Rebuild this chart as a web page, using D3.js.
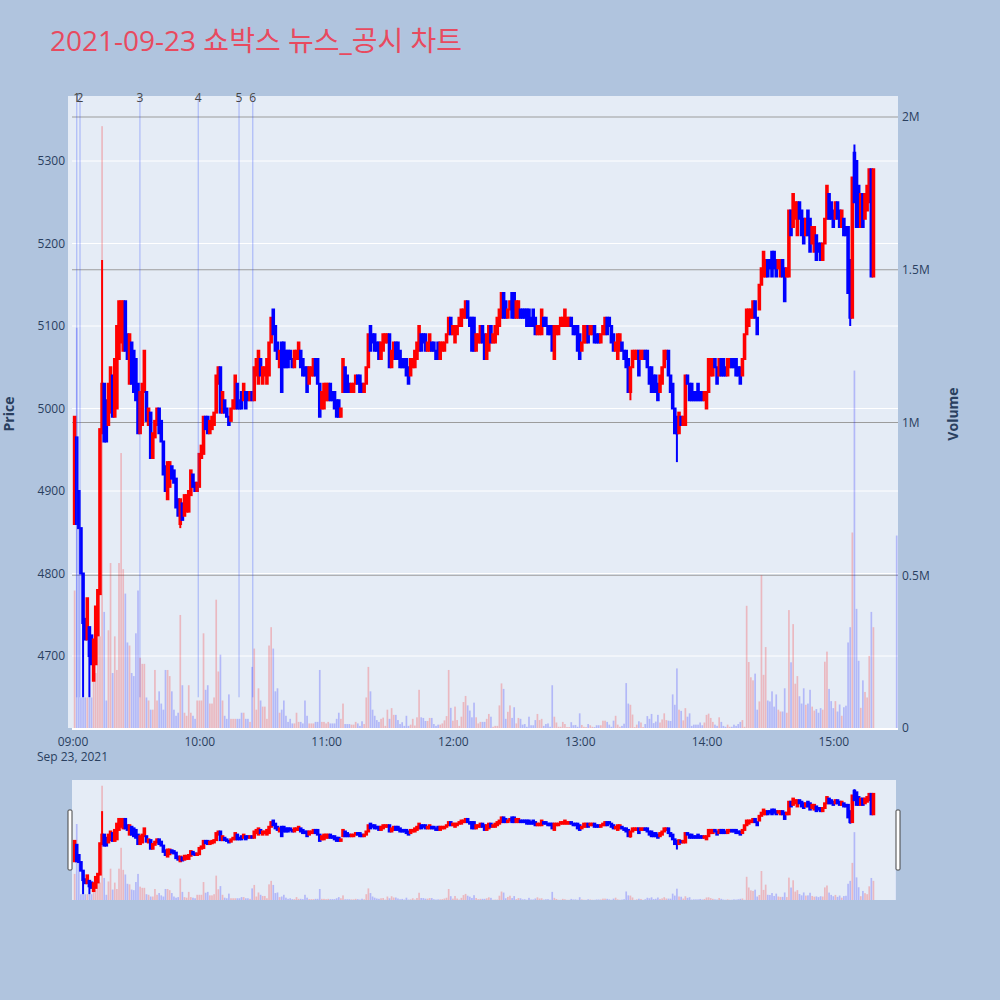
<!DOCTYPE html>
<html><head><meta charset="utf-8">
<script src="https://cdn.jsdelivr.net/npm/d3@7"></script>
<style>
body{margin:0;background:#b0c4de;}
svg text{font-family:"Open Sans","Noto Sans CJK KR",sans-serif;}
</style>
</head><body>
<svg id="chart" width="1000" height="1000"></svg>
<script>
// ---------------- DATA ----------------
const chartTitle = "2021-09-23 쇼박스 뉴스_공시 차트";
const tradeDate = "2021-09-23";
const firstBarTime = "09:01";           // one bar per minute from here
const opens = [
4860,4965,4900,4855,4800,4745,4720,4735,4725,4670,
4690,4725,4775,4970,5030,5010,4980,4995,5040,4990,
5000,5060,5080,5070,5130,5090,5030,5080,5070,5060,
5030,4970,4980,5020,5020,4980,4995,4940,4965,4980,
5000,4985,4960,4930,4890,4905,4930,4925,4915,4890,
4860,4885,4870,4875,4875,4895,4920,4910,4900,4905,
4940,4945,4990,4990,4970,4975,4980,4995,5030,5050,
4995,5010,5000,4990,4985,5000,5000,5030,5010,5020,
5010,5020,5020,5010,5020,5010,5040,5030,5060,5030,
5040,5030,5040,5080,5120,5100,5080,5050,5080,5080,
5070,5070,5070,5060,5050,5060,5060,5070,5060,5050,
5050,5030,5040,5040,5060,5060,5030,5000,5000,5010,
5010,5030,5020,5020,5010,5010,4990,5020,5050,5040,
5030,5020,5020,5030,5040,5040,5030,5020,5030,5050,
5100,5090,5090,5080,5080,5060,5070,5080,5080,5090,
5050,5060,5080,5080,5070,5060,5060,5060,5050,5040,
5050,5050,5060,5070,5090,5090,5090,5070,5070,5080,
5080,5070,5080,5060,5070,5070,5080,5090,5110,5090,
5080,5090,5100,5100,5110,5110,5130,5110,5110,5110,
5070,5080,5080,5100,5090,5060,5070,5100,5080,5080,
5090,5100,5110,5140,5130,5110,5120,5140,5140,5110,
5110,5120,5120,5120,5120,5120,5110,5120,5110,5090,
5090,5090,5110,5110,5100,5100,5100,5060,5090,5090,
5100,5100,5100,5100,5100,5110,5100,5100,5100,5090,
5070,5080,5080,5100,5090,5090,5100,5090,5090,5080,
5090,5090,5110,5110,5100,5090,5070,5060,5070,5080,
5070,5070,5060,5020,5050,5060,5060,5070,5060,5060,
5070,5070,5050,5050,5040,5040,5030,5020,5030,5050,
5060,5070,5040,5030,5000,4990,4970,4990,4980,4980,
5040,5030,5030,5020,5020,5030,5020,5020,5010,5000,
5020,5040,5040,5060,5050,5040,5060,5060,5050,5040,
5050,5060,5060,5060,5050,5050,5040,5060,5090,5100,
5110,5110,5130,5110,5120,5150,5160,5160,5180,5180,
5190,5190,5180,5170,5160,5180,5170,5160,5160,5240,
5220,5230,5210,5250,5240,5230,5210,5240,5230,5200,
5190,5210,5200,5200,5180,5200,5230,5260,5250,5240,
5230,5250,5240,5220,5230,5220,5220,5180,5110,5310,
5300,5270,5220,5260,5230,5240,5250,5290,5160
];
const closes = [
4990,4860,4855,4800,4740,4720,4770,4700,4690,4720,
4760,4780,4975,5030,4960,4960,5030,5050,4990,5060,
5100,5130,5130,5130,5070,5060,5090,5030,5020,5010,
4970,5020,5030,5070,4985,5000,4940,4970,4985,5000,
4970,4960,4920,4900,4935,4935,4915,4910,4880,4870,
4890,4865,4895,4895,4900,4925,4905,4900,4910,4945,
4955,4990,4975,4970,4985,4990,4995,5040,5050,4995,
5020,4995,4990,4980,5000,5010,5040,5000,5000,5000,
5030,5000,5010,5020,5010,5050,5060,5070,5040,5050,
5050,5060,5080,5110,5090,5070,5060,5070,5020,5050,
5050,5050,5060,5050,5070,5070,5080,5050,5040,5040,
5020,5050,5050,5060,5040,5030,4990,5020,5030,5030,
5030,5010,5010,5000,4990,4990,5000,5060,5020,5020,
5020,5030,5030,5040,5030,5020,5020,5030,5050,5090,
5070,5080,5070,5070,5060,5080,5090,5090,5090,5050,
5070,5080,5060,5060,5050,5050,5050,5040,5030,5060,
5060,5070,5080,5100,5070,5080,5070,5080,5090,5070,
5070,5060,5060,5080,5080,5080,5090,5110,5090,5100,
5100,5100,5110,5120,5120,5130,5110,5100,5070,5070,
5090,5090,5100,5080,5060,5090,5100,5080,5090,5100,
5110,5120,5140,5110,5110,5120,5130,5110,5110,5130,
5130,5110,5110,5110,5100,5100,5100,5100,5090,5100,
5100,5120,5100,5100,5090,5090,5070,5100,5100,5100,
5110,5110,5120,5110,5110,5100,5090,5090,5070,5060,
5080,5100,5100,5080,5100,5100,5080,5080,5080,5090,
5100,5110,5090,5100,5080,5070,5080,5090,5090,5070,
5060,5050,5020,5050,5070,5070,5070,5040,5070,5070,
5060,5050,5030,5020,5020,5020,5010,5040,5050,5070,
5070,5040,5020,5000,4970,4970,4995,4980,4990,5040,
5030,5010,5010,5010,5010,5010,5010,5010,5020,5020,
5060,5060,5060,5050,5030,5060,5040,5040,5040,5060,
5060,5050,5050,5040,5040,5030,5060,5090,5120,5120,
5120,5130,5110,5090,5150,5170,5190,5180,5160,5170,
5160,5170,5160,5180,5180,5160,5130,5170,5240,5210,
5260,5250,5250,5230,5210,5200,5230,5210,5190,5220,
5220,5180,5190,5180,5200,5230,5270,5230,5230,5220,
5250,5230,5220,5240,5210,5210,5140,5110,5280,5250,
5220,5220,5260,5220,5260,5270,5290,5160,5290
];
// extra wick extremes: [bar index, high, low]
const wickExtremes = [[4,null,4650],[7,null,4650],[13,5180,null],[50,null,4855],[263,null,5010],[285,null,4935],[367,null,5100],[369,5320,null]];
// volume per bar, thousands of shares
const volumeThousands = [
450,1310,660,100,100,100,100,100,100,180,
180,440,300,1970,380,90,320,540,180,300,
190,540,900,520,440,280,270,180,170,310,
450,230,210,210,100,90,60,60,190,90,
120,80,60,190,190,170,120,60,40,50,
370,140,50,40,140,50,40,30,90,90,
90,310,125,140,80,80,100,420,185,240,
90,40,30,110,30,30,30,30,30,50,
50,30,30,20,200,260,60,130,90,70,
70,30,270,330,260,120,130,50,60,90,
40,20,30,15,15,50,20,20,15,90,
40,15,15,15,20,20,190,20,20,15,
20,15,15,15,30,50,30,80,13,13,
13,11,11,20,15,7,22,13,100,200,
120,60,40,26,20,30,34,7,60,30,
65,43,43,26,13,19,7,40,7,11,
30,8,35,125,35,33,23,23,33,33,
13,7,11,11,15,25,39,190,66,24,
70,26,7,37,85,105,74,57,35,83,
35,15,20,20,20,30,46,37,4,7,
7,74,146,128,30,53,74,33,68,15,
33,30,11,13,4,37,9,9,26,46,
26,30,7,13,15,4,140,37,18,4,
4,20,13,3,3,19,9,10,4,48,
10,4,3,13,9,4,3,9,9,9,
24,24,20,11,4,24,40,11,4,7,
14,147,80,76,44,3,11,22,18,3,
13,39,30,46,16,21,43,18,28,48,
26,24,23,110,76,195,60,56,25,65,
37,48,7,11,11,11,18,9,18,43,
47,33,20,11,7,35,20,7,4,11,
4,4,11,7,13,20,26,4,400,216,
166,156,178,60,87,500,174,265,90,87,
120,70,110,60,54,54,130,50,386,215,
340,145,170,104,80,130,76,80,125,70,
57,62,50,65,60,217,250,128,88,65,
88,54,77,40,68,73,280,330,640,1170,
390,220,66,156,118,100,236,380,330
];
const closingAuction = {time:"15:30", open:5160, close:5160, volumeThousands:630};
const newsTimes = ["09:02:00","09:03:33","09:31:54","09:59:30","10:18:48","10:25:18"];
const newsLabels = ["1","2","3","4","5","6"];
const priceTicks = [4700,4800,4900,5000,5100,5200,5300];
const volumeTicks = [0,500000,1000000,1500000,2000000];
const volumeTickLabels = ["0","0.5M","1M","1.5M","2M"];
const timeTicks = ["09:00","10:00","11:00","12:00","13:00","14:00","15:00"];
const dateLabel = "Sep 23, 2021";

// ---------------- BUILD ----------------
const parseDT = d3.timeParse("%Y-%m-%d %H:%M:%S");
const tAt = s => parseDT(tradeDate + " " + (s.length === 5 ? s + ":00" : s));
const t0 = tAt(firstBarTime);
const whigh = new Map(), wlow = new Map();
wickExtremes.forEach(([i,h,l]) => { if (h != null) whigh.set(i,h); if (l != null) wlow.set(i,l); });
const bars = opens.map((o,i) => {
  const c = closes[i];
  return {t: new Date(t0.getTime() + i*60000), o, c,
    h: Math.max(o, c, whigh.has(i) ? whigh.get(i) : -Infinity),
    l: Math.min(o, c, wlow.has(i) ? wlow.get(i) : Infinity),
    v: volumeThousands[i]*1000};
});
bars.push({t: tAt(closingAuction.time), o: closingAuction.open, c: closingAuction.close,
  h: closingAuction.open, l: closingAuction.close, v: closingAuction.volumeThousands*1000});

const UP = "#ff0000", DOWN = "#0000ff";
const col = d => d.c > d.o ? UP : DOWN;

const svg = d3.select("#chart");
const P = {l:68, r:898, t:96, b:728, gl:72};
const S = {l:72, r:896, t:780, b:900};

const xBase = d3.scaleTime().domain([tAt("09:00"), tAt("15:00")]).range([72.5, 833.3]);
const x = d3.scaleTime().domain([xBase.invert(P.l), xBase.invert(P.r)]).range([P.l, P.r]);
const yBase = d3.scaleLinear().domain([4700,5300]).range([656,161]);
const y = d3.scaleLinear().domain([yBase.invert(P.b), yBase.invert(P.t)]).range([P.b, P.t]);
const yvBase = d3.scaleLinear().domain([0,2000000]).range([728,117]);
const yv = d3.scaleLinear().domain([0, yvBase.invert(P.t)]).range([P.b, P.t]);
const ys = y.copy().range([S.b, S.t]);
const yvs = yv.copy().range([S.b, S.t]);
const minPx = x(new Date(t0.getTime()+60000)) - x(t0);

// title
svg.append("text").attr("x",50).attr("y",51).attr("font-size",28).attr("fill","#e84a5f").text(chartTitle);

// plot background
svg.append("rect").attr("x",P.l).attr("y",P.t).attr("width",P.r-P.l).attr("height",P.b-P.t).attr("fill","#e5ecf6");

const defs = svg.append("defs");
defs.append("clipPath").attr("id","clipMain").append("rect").attr("x",P.l).attr("y",P.t).attr("width",P.r-P.l).attr("height",P.b-P.t);
defs.append("clipPath").attr("id","clipSlide").append("rect").attr("x",S.l).attr("y",S.t).attr("width",S.r-S.l).attr("height",S.b-S.t);

// price grid (white)
svg.append("g").selectAll("line").data(priceTicks).join("line")
  .attr("x1",P.gl).attr("x2",P.r).attr("y1",d=>y(d)).attr("y2",d=>y(d))
  .attr("stroke","#ffffff").attr("stroke-width",1);
// volume grid (gray), zero line white
svg.append("g").selectAll("line").data(volumeTicks.filter(v=>v>0)).join("line")
  .attr("x1",P.gl).attr("x2",P.r).attr("y1",d=>yv(d)).attr("y2",d=>yv(d))
  .attr("stroke","#9c9c9c").attr("stroke-width",1.2);
svg.append("line").attr("x1",P.gl).attr("x2",P.r).attr("y1",yv(0)+1).attr("y2",yv(0)+1)
  .attr("stroke","#ffffff").attr("stroke-width",2);

function drawSeries(g, yP, yV, lw, bodyW, barW) {
  g.append("g").selectAll("rect").data(bars).join("rect")
    .attr("x",d=>x(d.t)-barW/2).attr("width",barW)
    .attr("y",d=>yV(d.v)).attr("height",d=>yV(0)-yV(d.v))
    .attr("fill",col).attr("fill-opacity",0.22);
  const cg = g.append("g");
  cg.selectAll("line").data(bars).join("line")
    .attr("x1",d=>x(d.t)).attr("x2",d=>x(d.t))
    .attr("y1",d=>yP(d.h)).attr("y2",d=>yP(d.l))
    .attr("stroke",col).attr("stroke-width",lw);
  cg.selectAll("rect").data(bars).join("rect")
    .attr("x",d=>x(d.t)-bodyW/2).attr("width",bodyW)
    .attr("y",d=>yP(Math.max(d.o,d.c)))
    .attr("height",d=>Math.abs(yP(d.o)-yP(d.c)))
    .attr("fill",col).attr("stroke",col).attr("stroke-width",lw);
}

const main = svg.append("g").attr("clip-path","url(#clipMain)");
drawSeries(main, y, yv, 2, minPx*0.75, minPx*0.8);

// news lines
const newsG = svg.append("g");
newsG.selectAll("line").data(newsTimes).join("line")
  .attr("x1",d=>x(tAt(d))).attr("x2",d=>x(tAt(d)))
  .attr("y1",y(4650)).attr("y2",P.t)
  .attr("stroke","rgba(40,70,255,0.3)").attr("stroke-width",1.2);
newsG.selectAll("text").data(newsTimes).join("text")
  .attr("x",d=>x(tAt(d))).attr("y",P.t+6).attr("text-anchor","middle")
  .attr("font-size",12).attr("fill","#444").text((d,i)=>newsLabels[i]);

// axes
const axColor = "#2a3f5f";
const gx = svg.append("g").attr("transform",`translate(0,${P.b})`)
  .call(d3.axisBottom(x).tickValues(timeTicks.map(tAt)).tickFormat(d3.timeFormat("%H:%M")).tickSize(0).tickPadding(9));
const gy = svg.append("g").attr("transform",`translate(${P.l},0)`)
  .call(d3.axisLeft(y).tickValues(priceTicks).tickFormat(d3.format("d")).tickSize(0).tickPadding(3));
const gy2 = svg.append("g").attr("transform",`translate(${P.r},0)`)
  .call(d3.axisRight(yv).tickValues(volumeTicks).tickFormat((d,i)=>volumeTickLabels[i]).tickSize(0).tickPadding(4));
[gx,gy,gy2].forEach(g=>{
  g.select(".domain").remove();
  g.selectAll("text").attr("font-size",12).attr("fill",axColor);
});
svg.append("text").attr("x",x(tAt("09:00"))).attr("y",761).attr("text-anchor","middle")
  .attr("font-size",12).attr("fill",axColor).text(dateLabel);
svg.append("text").attr("transform","translate(14,414) rotate(-90)").attr("text-anchor","middle")
  .attr("font-size",14).attr("font-weight","bold").attr("fill",axColor).text("Price");
svg.append("text").attr("transform","translate(958,414) rotate(-90)").attr("text-anchor","middle")
  .attr("font-size",14).attr("font-weight","bold").attr("fill",axColor).text("Volume");

// range slider
svg.append("rect").attr("x",S.l).attr("y",S.t).attr("width",S.r-S.l).attr("height",S.b-S.t).attr("fill","#e5ecf6");
const slide = svg.append("g").attr("clip-path","url(#clipSlide)");
drawSeries(slide, ys, yvs, 2, minPx*0.75, minPx*0.8);
[S.l-2, S.r+2].forEach(cx => {
  svg.append("rect").attr("x",cx-2).attr("y",810).attr("width",4).attr("height",60)
    .attr("rx",1).attr("fill","#ffffff").attr("stroke","#444").attr("stroke-width",1);
});
</script>
</body></html>
